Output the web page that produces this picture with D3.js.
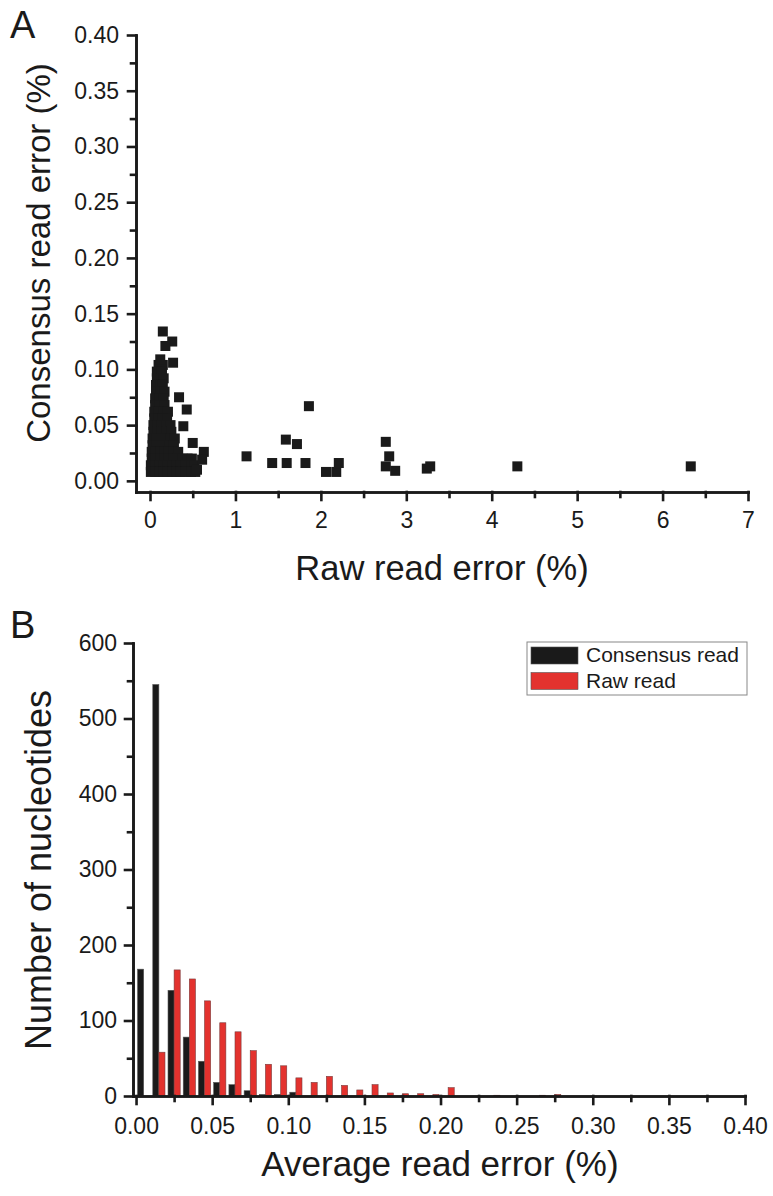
<!DOCTYPE html>
<html>
<head>
<meta charset="utf-8">
<script src="https://cdn.jsdelivr.net/npm/d3@7"></script>
<style>
  body { margin: 0; background: #fff; }
  svg { font-family: "Liberation Sans", Arial, sans-serif; }
  .axis path, .axis line { stroke: #1a1a1a; stroke-width: 2.6; stroke-linecap: square; }
  .axis text { fill: #1a1a1a; }
</style>
</head>
<body>
<svg width="773" height="1196"></svg>
<script>
// panel A: raw read error vs consensus read error (%), one pair per position
var scatterPoints = [
  // main cluster near zero
  [0.10,0.104],[0.15,0.104],
  [0.08,0.098],[0.14,0.098],
  [0.08,0.092],[0.13,0.092],[0.16,0.092],
  [0.07,0.086],[0.12,0.086],[0.15,0.086],
  [0.07,0.080],[0.12,0.080],[0.17,0.080],
  [0.06,0.074],[0.11,0.074],[0.16,0.074],
  [0.06,0.068],[0.11,0.068],[0.17,0.068],
  [0.05,0.062],[0.10,0.062],[0.16,0.062],[0.21,0.062],
  [0.05,0.056],[0.10,0.056],[0.15,0.056],[0.20,0.056],
  [0.04,0.050],[0.09,0.050],[0.14,0.050],[0.19,0.050],[0.24,0.050],
  [0.04,0.044],[0.09,0.044],[0.14,0.044],[0.19,0.044],[0.25,0.044],
  [0.03,0.038],[0.08,0.038],[0.13,0.038],[0.18,0.038],[0.24,0.038],[0.29,0.038],
  [0.03,0.032],[0.08,0.032],[0.13,0.032],[0.18,0.032],[0.23,0.032],[0.28,0.032],
  [0.02,0.026],[0.07,0.026],[0.12,0.026],[0.17,0.026],[0.22,0.026],[0.28,0.026],[0.33,0.026],
  [0.02,0.020],[0.07,0.020],[0.12,0.020],[0.17,0.020],[0.22,0.020],[0.27,0.020],[0.32,0.020],[0.38,0.020],[0.44,0.020],[0.49,0.020],
  [0.01,0.014],[0.06,0.014],[0.11,0.014],[0.16,0.014],[0.21,0.014],[0.26,0.014],[0.31,0.014],[0.36,0.014],[0.42,0.014],[0.48,0.014],[0.52,0.014],
  [0.01,0.008],[0.06,0.008],[0.11,0.008],[0.16,0.008],[0.21,0.008],[0.26,0.008],[0.31,0.008],[0.36,0.008],[0.42,0.008],[0.48,0.008],[0.53,0.008],
  // scattered points
  [0.15,0.134],[0.26,0.125],[0.18,0.121],[0.27,0.106],[0.12,0.109],[0.34,0.075],
  [0.43,0.064],[0.39,0.049],[0.50,0.034],[0.63,0.026],[0.61,0.019],[0.55,0.010],
  [1.13,0.022],[1.43,0.016],[1.60,0.016],[1.82,0.016],[1.59,0.037],[1.72,0.033],
  [1.86,0.067],[2.06,0.008],[2.18,0.008],[2.21,0.016],[2.76,0.035],[2.80,0.022],
  [2.76,0.013],[2.87,0.009],[3.24,0.011],[3.28,0.013],[4.30,0.013],[6.33,0.013]
];

// panel B: histogram, bins of 0.01 %
var binStart = [0.00,0.01,0.02,0.03,0.04,0.05,0.06,0.07,0.08,0.09,0.10,0.11,0.12,0.13,
                0.14,0.15,0.16,0.17,0.18,0.19,0.20,0.21,0.22,0.23,0.24,0.25,0.26,0.27];
var consensusCounts = [168,545,140,78,46,18,15,7,2,2,5,0,0,0,0,0,0,0,0,0,0,0,0,0,0,0,0,0];
var rawCounts = [0,58,167,155,126,97,85,60,42,40,24,18,26,14,8,15,4,3,3,2,11,0,0,1,0,0,1,2];

var seriesNames = ["Consensus read", "Raw read"];
var seriesColors = ["#1a1a1a", "#e3322e"];

var svg = d3.select("svg");

// ---------- panel A ----------
var xA = d3.scaleLinear().domain([-0.164, 7]).range([136, 748]);
var yA = d3.scaleLinear().domain([-0.01, 0.40]).range([492, 35]);

svg.append("g").attr("class", "axis")
  .attr("transform", "translate(0,492)")
  .call(d3.axisBottom(xA).tickValues([0.5,1.5,2.5,3.5,4.5,5.5,6.5]).tickSize(5).tickSizeOuter(0).tickFormat(""));
svg.append("g").attr("class", "axis")
  .attr("transform", "translate(0,492)")
  .call(d3.axisBottom(xA).tickValues([0,1,2,3,4,5,6,7]).tickSize(8).tickSizeOuter(0).tickPadding(12).tickFormat(d3.format("d")))
  .selectAll("text").style("font-size", "23px");

svg.append("g").attr("class", "axis")
  .attr("transform", "translate(136,0)")
  .call(d3.axisLeft(yA).tickValues([0.025,0.075,0.125,0.175,0.225,0.275,0.325,0.375]).tickSize(5).tickSizeOuter(0).tickFormat(""));
svg.append("g").attr("class", "axis")
  .attr("transform", "translate(136,0)")
  .call(d3.axisLeft(yA).tickValues([0,0.05,0.10,0.15,0.20,0.25,0.30,0.35,0.40]).tickSize(8).tickSizeOuter(0).tickPadding(9).tickFormat(d3.format(".2f")))
  .selectAll("text").style("font-size", "23px");

svg.append("g")
  .selectAll("rect").data(scatterPoints).enter()
  .append("rect")
    .attr("x", d => xA(d[0]) - 5)
    .attr("y", d => yA(d[1]) - 5)
    .attr("width", 10)
    .attr("height", 10)
    .style("fill", "#1a1a1a");

svg.append("text").attr("x", 442).attr("y", 580)
  .style("text-anchor", "middle").style("font-size", "34.5px").style("fill", "#1a1a1a")
  .text("Raw read error (%)");
svg.append("text").attr("transform", "translate(50,253) rotate(-90)")
  .style("text-anchor", "middle").style("font-size", "33px").style("fill", "#1a1a1a")
  .text("Consensus read error (%)");
svg.append("text").attr("x", 10).attr("y", 38)
  .style("font-size", "38px").style("fill", "#1a1a1a").text("A");

// ---------- panel B ----------
var xB = d3.scaleLinear().domain([-0.002, 0.40]).range([133, 745]);
var yB = d3.scaleLinear().domain([0, 600]).range([1096, 643]);

var bars = svg.append("g");
bars.selectAll("rect.cons").data(binStart).enter()
  .append("rect").attr("class", "cons")
    .attr("x", d => xB(d + 0.001))
    .attr("width", d => xB(d + 0.005) - xB(d + 0.001))
    .attr("y", (d, i) => yB(consensusCounts[i]))
    .attr("height", (d, i) => yB(0) - yB(consensusCounts[i]))
    .style("fill", seriesColors[0])
    .style("stroke", "#555")
    .style("stroke-width", 0.6);
bars.selectAll("rect.raw").data(binStart).enter()
  .append("rect").attr("class", "raw")
    .attr("x", d => xB(d + 0.005))
    .attr("width", d => xB(d + 0.009) - xB(d + 0.005))
    .attr("y", (d, i) => yB(rawCounts[i]))
    .attr("height", (d, i) => yB(0) - yB(rawCounts[i]))
    .style("fill", seriesColors[1])
    .style("stroke", "#7a3a3a")
    .style("stroke-width", 0.6);

svg.append("g").attr("class", "axis")
  .attr("transform", "translate(0,1096)")
  .call(d3.axisBottom(xB).tickValues([0.025,0.075,0.125,0.175,0.225,0.275,0.325,0.375]).tickSize(5).tickSizeOuter(0).tickFormat(""));
svg.append("g").attr("class", "axis")
  .attr("transform", "translate(0,1096)")
  .call(d3.axisBottom(xB).tickValues([0,0.05,0.10,0.15,0.20,0.25,0.30,0.35,0.40]).tickSize(8).tickSizeOuter(0).tickPadding(14).tickFormat(d3.format(".2f")))
  .selectAll("text").style("font-size", "23px");

svg.append("g").attr("class", "axis")
  .attr("transform", "translate(133,0)")
  .call(d3.axisLeft(yB).tickValues([50,150,250,350,450,550]).tickSize(5).tickSizeOuter(0).tickFormat(""));
svg.append("g").attr("class", "axis")
  .attr("transform", "translate(133,0)")
  .call(d3.axisLeft(yB).tickValues([0,100,200,300,400,500,600]).tickSize(8).tickSizeOuter(0).tickPadding(8).tickFormat(d3.format("d")))
  .selectAll("text").style("font-size", "23px");

svg.append("text").attr("x", 440).attr("y", 1176)
  .style("text-anchor", "middle").style("font-size", "35px").style("fill", "#1a1a1a")
  .text("Average read error (%)");
svg.append("text").attr("transform", "translate(51,870) rotate(-90)")
  .style("text-anchor", "middle").style("font-size", "36px").style("fill", "#1a1a1a")
  .text("Number of nucleotides");
svg.append("text").attr("x", 10).attr("y", 638)
  .style("font-size", "38px").style("fill", "#1a1a1a").text("B");

// legend
var legend = svg.append("g");
legend.append("rect")
  .attr("x", 527).attr("y", 642).attr("width", 220).attr("height", 53)
  .style("fill", "#fff").style("stroke", "#888").style("stroke-width", 1);
legend.selectAll("rect.sw").data(seriesNames).enter()
  .append("rect").attr("class", "sw")
    .attr("x", 531)
    .attr("y", (d, i) => 647 + i * 25.5)
    .attr("width", 47)
    .attr("height", 17)
    .style("fill", (d, i) => seriesColors[i])
    .style("stroke", "#555")
    .style("stroke-width", 0.6);
legend.selectAll("text").data(seriesNames).enter()
  .append("text")
    .attr("x", 586)
    .attr("y", (d, i) => 662 + i * 26)
    .style("font-size", "21px")
    .style("fill", "#1a1a1a")
    .text(d => d);
</script>
</body>
</html>
